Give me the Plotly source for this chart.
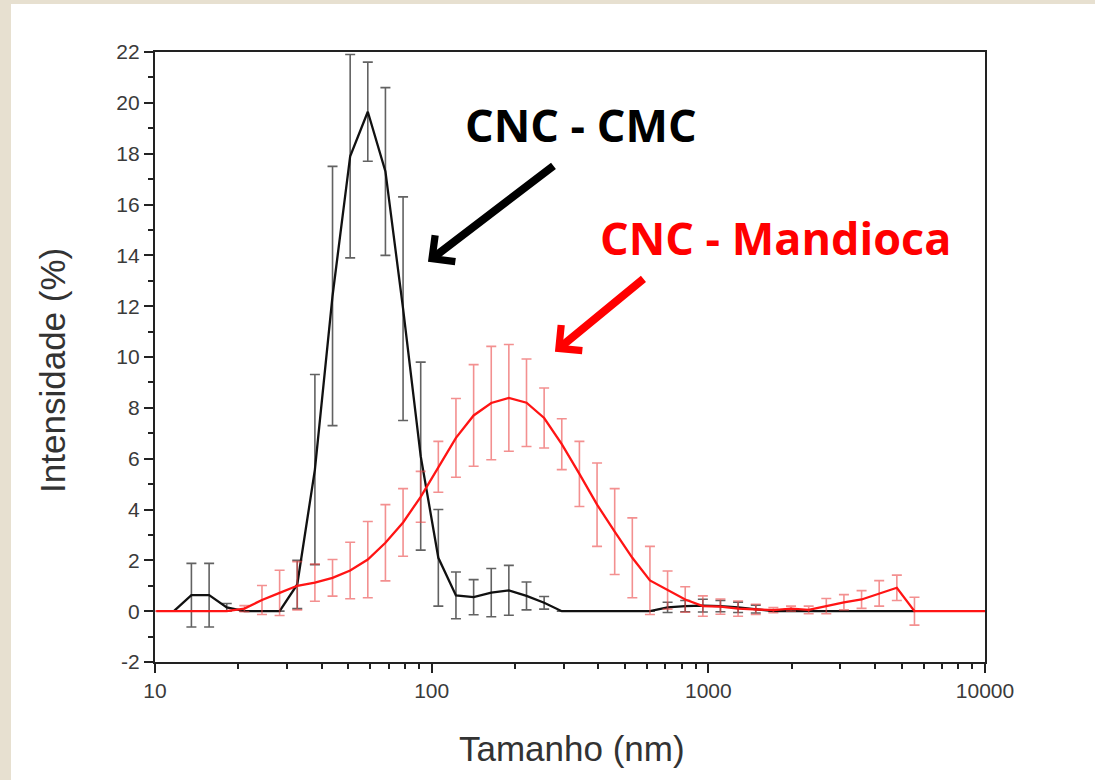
import plotly.graph_objects as go

# ---- data (Malvern size bins, nm) ----
cmc_size = [11.70, 13.54, 15.69, 18.17, 21.04, 24.36, 28.21, 32.67, 37.84, 43.82,
            50.75, 58.77, 68.06, 78.82, 91.28, 105.7, 122.4, 141.8, 164.2, 190.1,
            220.2, 255.0, 295.3, 342.0, 396.1, 458.7, 531.2, 615.1, 712.4, 825.0,
            955.4, 1106, 1281, 1484, 1718, 1990, 2305, 2669, 3091, 3580, 4145, 4801, 5560]
cmc_int = [0, 0.63, 0.63, 0.15, 0, 0, 0, 1.05, 5.57, 12.4,
           17.9, 19.65, 17.3, 11.9, 6.1, 2.1, 0.62, 0.55, 0.73, 0.82,
           0.6, 0.33, 0, 0, 0, 0, 0, 0, 0.15, 0.2,
           0.22, 0.2, 0.15, 0.08, 0, 0, 0, 0, 0, 0, 0, 0, 0]
cmc_err = [None, 1.25, 1.25, 0.15, None, None, None, 0.95, 3.74, 5.1,
           4.0, 1.95, 3.3, 4.4, 3.7, 1.9, 0.92, 0.69, 0.95, 0.98,
           0.55, 0.25, None, None, None, None, None, None, 0.2, 0.22,
           0.25, 0.22, 0.2, 0.15, None, None, None, None, None, None, None, None, None]

man_size = [10.10, 11.70, 13.54, 15.69, 18.17, 21.04, 24.36, 28.21, 32.67, 37.84,
            43.82, 50.75, 58.77, 68.06, 78.82, 91.28, 105.7, 122.4, 141.8, 164.2,
            190.1, 220.2, 255.0, 295.3, 342.0, 396.1, 458.7, 531.2, 615.1, 712.4,
            825.0, 955.4, 1106, 1281, 1484, 1718, 1990, 2305, 2669, 3091,
            3580, 4145, 4801, 5560, 6439, 7456, 8635, 10000]
man_int = [0, 0, 0, 0, 0, 0.1, 0.44, 0.72, 1.0, 1.12,
           1.31, 1.6, 2.03, 2.69, 3.49, 4.5, 5.68, 6.82, 7.7, 8.19,
           8.39, 8.2, 7.6, 6.57, 5.4, 4.19, 3.13, 2.1, 1.21, 0.83,
           0.46, 0.2, 0.18, 0.1, 0.07, 0.04, 0.1, 0.05, 0.2, 0.35,
           0.46, 0.7, 0.92, 0, 0, 0, 0, 0]
man_err = [None, None, None, None, None, 0.12, 0.57, 0.89, 0.95, 0.73,
           0.72, 1.11, 1.5, 1.5, 1.33, 1.0, 1.0, 1.55, 2.0, 2.23,
           2.1, 1.72, 1.18, 1.0, 1.28, 1.64, 1.69, 1.57, 1.34, 0.75,
           0.5, 0.4, 0.3, 0.3, 0.2, 0.1, 0.1, 0.15, 0.3, 0.3,
           0.35, 0.5, 0.5, 0.55, None, None, None, None]

x_major = [10, 100, 1000, 10000]
x_minor = [m * d for d in (10, 100, 1000) for m in range(2, 10)]
y_major = list(range(-2, 23, 2))
y_labels = [str(v) for v in y_major]

fig = go.Figure()

fig.add_trace(go.Scatter(
    x=cmc_size, y=cmc_int, mode="lines",
    line=dict(color="#111111", width=2.3),
    error_y=dict(type="data", array=cmc_err, visible=True,
                 color="rgba(70,70,70,0.85)", thickness=1.6, width=5),
    name="CNC - CMC", showlegend=False))

fig.add_trace(go.Scatter(
    x=man_size, y=man_int, mode="lines",
    line=dict(color="#ff1414", width=2.3),
    error_y=dict(type="data", array=man_err, visible=True,
                 color="rgba(235,70,70,0.6)", thickness=1.6, width=5),
    name="CNC - Mandioca", showlegend=False))

tickfont = dict(family="Liberation Sans, Arial, sans-serif", size=21, color="#3a3a3a")
titlefont = dict(family="Liberation Sans, Arial, sans-serif", size=35, color="#333333")

fig.update_xaxes(
    type="log", range=[1, 4],
    tickmode="array", tickvals=x_major, ticktext=[str(v) for v in x_major],
    ticks="outside", ticklen=9, tickwidth=2, tickcolor="#222",
    minor=dict(tickmode="array", tickvals=x_minor, ticks="outside",
               ticklen=5, tickwidth=1.5, tickcolor="#222"),
    showline=True, linecolor="#222", linewidth=2.2, mirror=True,
    showgrid=False, zeroline=False,
    tickfont=tickfont)

fig.update_yaxes(
    range=[-2, 22],
    tickmode="array", tickvals=y_major, ticktext=y_labels,
    ticks="outside", ticklen=9, tickwidth=2, tickcolor="#222",
    minor=dict(dtick=1, tick0=0, ticks="outside", ticklen=5, tickwidth=1.5, tickcolor="#222"),
    showline=True, linecolor="#222", linewidth=2.2, mirror=True,
    showgrid=False, zeroline=False,
    tickfont=tickfont)

# axis titles
fig.add_annotation(x=0.5025, y=-0.141, xref="paper", yref="paper", text="Tamanho (nm)",
                   showarrow=False, font=titlefont, xanchor="center", yanchor="middle")
fig.add_annotation(x=-0.123, y=0.4787, xref="paper", yref="paper", text="Intensidade (%)",
                   showarrow=False, font=titlefont, textangle=-90,
                   xanchor="center", yanchor="middle")

# white panel over beige paper
fig.add_shape(type="rect", xref="paper", yref="paper",
              x0=-0.1735, x1=1.14, y0=-0.2, y1=1.0787,
              fillcolor="white", line=dict(width=0), layer="below")

ann_font = "Open Sans, Lato, sans-serif"
fig.add_annotation(x=2.5396, y=19.13, xref="x", yref="y", text="<b>CNC - CMC</b>",
                   showarrow=False, font=dict(family=ann_font, size=45, color="#000000"),
                   xanchor="center", yanchor="middle")
fig.add_annotation(x=3.2425, y=14.69, xref="x", yref="y", text="<b>CNC - Mandioca</b>",
                   showarrow=False, font=dict(family=ann_font, size=45, color="#ff0000"),
                   xanchor="center", yanchor="middle")

# arrows
for (hx, hy, ax, ay, col) in [(1.9866, 13.75, 127, -97, "#000000"),
                              (2.4456, 10.21, 90, -74, "#ff0000")]:
    fig.add_annotation(x=hx, y=hy, xref="x", yref="y", ax=ax, ay=ay, text="",
                       showarrow=True, arrowhead=4, arrowsize=0.8, arrowwidth=8,
                       arrowcolor=col, standoff=0)

fig.update_layout(
    width=1095, height=780,
    margin=dict(l=155, r=110, t=52, b=118),
    paper_bgcolor="#e7e0d0", plot_bgcolor="white",
    showlegend=False)

fig.write_html("out.html",
               config={"displayModeBar": False},
               post_script="document.body.style.margin='0px';"
                           "document.body.style.background='#e7e0d0';")
